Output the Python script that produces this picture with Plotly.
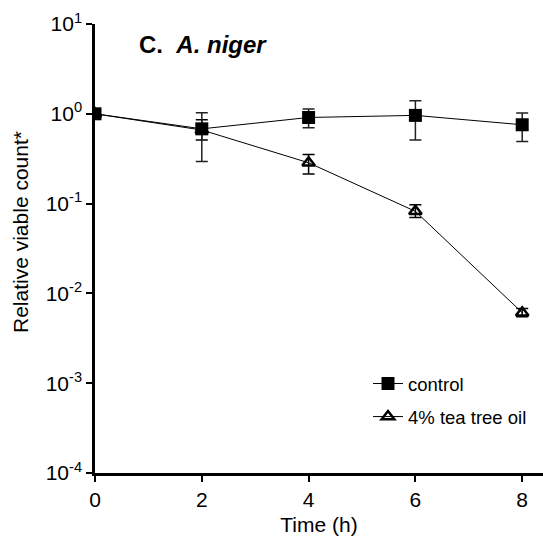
import plotly.graph_objects as go

# Sampling times (h)
time_h = [0, 2, 4, 6, 8]

# Relative viable count, A. niger
control = [1.0, 0.68, 0.91, 0.96, 0.755]
control_hi = [1.0, 1.03, 1.13, 1.40, 1.02]
control_lo = [1.0, 0.295, 0.70, 0.51, 0.49]

tto = [1.0, 0.66, 0.285, 0.082, 0.0061]
tto_hi = [1.0, 0.86, 0.352, 0.097, 0.0068]
tto_lo = [1.0, 0.51, 0.213, 0.070, 0.0055]

y_tickvals = [1e-4, 1e-3, 1e-2, 1e-1, 1e0, 1e1]
y_ticktext = ["10<sup>-4</sup>", "10<sup>-3</sup>", "10<sup>-2</sup>",
              "10<sup>-1</sup>", "10<sup>0</sup>", "10<sup>1</sup>"]
x_tickvals = [0, 2, 4, 6, 8]

FONT = "Arial, Liberation Sans, sans-serif"


def err(vals, hi, lo, color="black"):
    plus = [h - v for v, h in zip(vals, hi)]
    minus = [v - l for v, l in zip(vals, lo)]
    return dict(type="data", symmetric=False, array=plus, arrayminus=minus,
                color=color, thickness=1.5, width=6)


fig = go.Figure()

fig.add_trace(go.Scatter(
    x=time_h, y=tto, name="4% tea tree oil", mode="lines+markers",
    line=dict(color="black", width=1),
    marker=dict(symbol="triangle-up-open", size=11, color="black",
                line=dict(width=2.5, color="black")),
    error_y=err(tto, tto_hi, tto_lo),
    legendrank=2, legendgroup="b",
))

fig.add_trace(go.Scatter(
    x=time_h, y=control, name="control", mode="lines+markers",
    line=dict(color="black", width=1),
    marker=dict(symbol="square", size=13, color="black"),
    error_y=err(control, control_hi, control_lo, "#222222"),
    legendrank=1, legendgroup="a",
))

fig.add_annotation(
    text="<b>C.&nbsp;&nbsp;<i>A. niger</i></b>",
    xref="paper", yref="paper", x=(137 - 95) / 448, y=(473 - 45) / 449,
    xanchor="left", yanchor="middle", showarrow=False,
    font=dict(family=FONT, size=24, color="black"),
)

fig.add_annotation(
    text="Relative viable count*",
    xref="paper", yref="paper", x=(20 - 95) / 448, y=(473 - 232) / 449,
    xanchor="center", yanchor="middle", textangle=-90, showarrow=False,
    font=dict(family=FONT, size=21, color="black"),
)

fig.update_layout(
    width=543, height=541,
    margin=dict(l=95, r=0, t=24, b=68),
    paper_bgcolor="white", plot_bgcolor="white",
    font=dict(family=FONT, size=21, color="black"),
    showlegend=True,
    legend=dict(
        x=(368 - 95) / 448, y=(473 - 365) / 449, xanchor="left", yanchor="top",
        bgcolor="rgba(0,0,0,0)", font=dict(family=FONT, size=18.5),
        tracegroupgap=6, itemwidth=30,
    ),
    xaxis=dict(
        range=[0, 448 / 53.4], tickvals=x_tickvals, ticks="outside",
        ticklen=6, tickwidth=2, tickcolor="black",
        showline=True, linewidth=2.5, linecolor="black",
        showgrid=False, zeroline=False,
        title=dict(text="Time (h)", font=dict(family=FONT, size=21), standoff=8),
        tickfont=dict(family=FONT, size=21),
    ),
    yaxis=dict(
        type="log", range=[-4, 1], tickvals=y_tickvals, ticktext=y_ticktext,
        ticks="outside", ticklen=6, tickwidth=2, tickcolor="black",
        showline=True, linewidth=2.5, linecolor="black",
        showgrid=False, zeroline=False,
        tickfont=dict(family=FONT, size=21),
    ),
)

fig.write_html("out.html")
